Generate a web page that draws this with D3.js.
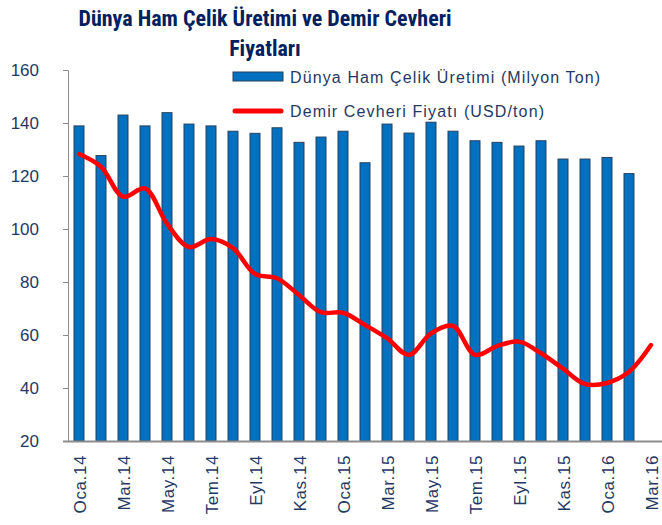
<!DOCTYPE html>
<html>
<head>
<meta charset="utf-8">
<script src="https://cdn.jsdelivr.net/npm/d3@7"></script>
<style>
  body { margin: 0; background: #fff; }
  text { font-family: "Liberation Sans", sans-serif; fill: #1F3864; }
  .title { font-family: "Liberation Sans Narrow", "Roboto Condensed", "Liberation Sans", sans-serif; }
</style>
</head>
<body>
<div id="chart"></div>
<script>
const months = ["Oca.14","Şub.14","Mar.14","Nis.14","May.14","Haz.14","Tem.14","Ağu.14","Eyl.14","Eki.14","Kas.14","Ara.14",
  "Oca.15","Şub.15","Mar.15","Nis.15","May.15","Haz.15","Tem.15","Ağu.15","Eyl.15","Eki.15","Kas.15","Ara.15",
  "Oca.16","Şub.16","Mar.16"];

// Dünya ham çelik üretimi (milyon ton)
const steel = [138.9, 127.7, 143, 138.9, 143.9, 139.6, 138.9, 136.9, 136.1, 138.2, 132.7, 134.7,
  136.9, 125, 139.6, 136.2, 140.3, 136.9, 133.3, 132.7, 131.3, 133.3, 126.4, 126.4, 127, 120.9];

// Demir cevheri fiyatı (USD/ton)
const ore = [128.3, 123.5, 112.2, 115.3, 102, 93.2, 96.2, 92.8, 83, 81.4, 75.1, 68.6,
  68.4, 63.8, 58.8, 52.5, 60.6, 63.4, 52.5, 55.8, 57.5, 53.1, 47.3, 41.5, 41.9, 46.1, 56.2];

const yTicks = [20, 40, 60, 80, 100, 120, 140, 160];

const width = 662, height = 525;
const margin = {top: 70, right: 0, bottom: 84, left: 68};

const svg = d3.select("#chart")
  .append("svg")
  .attr("width", width)
  .attr("height", height);

const x = d3.scaleBand()
  .domain(months)
  .range([margin.left, width - margin.right]);

const y = d3.scaleLinear()
  .domain([20, 160])
  .range([height - margin.bottom, margin.top]);

// title
const title = svg.append("text")
  .attr("class", "title")
  .attr("text-anchor", "middle")
  .style("font-size", "22px")
  .style("font-weight", "bold")
  .style("fill", "#002060");
title.append("tspan").attr("x", 265).attr("y", 26).text("Dünya Ham Çelik Üretimi ve Demir Cevheri");
title.append("tspan").attr("x", 265).attr("y", 56).text("Fiyatları");

// bars
const barW = 10;
svg.append("g")
  .selectAll("rect")
  .data(steel)
  .join("rect")
  .attr("x", (d, i) => x(months[i]) + x.bandwidth() / 2 - barW / 2)
  .attr("y", d => y(d))
  .attr("width", barW)
  .attr("height", d => y(20) - y(d))
  .attr("fill", "#0070C0")
  .attr("stroke", "#26425F")
  .attr("stroke-width", 1);

// y axis
const yAxis = svg.append("g")
  .attr("transform", `translate(${margin.left},0)`)
  .call(d3.axisLeft(y).tickValues(yTicks).tickSize(5).tickPadding(24));
yAxis.selectAll("path, line").attr("stroke", "#8c8c8c");
yAxis.selectAll("text").style("font-size", "17px").style("fill", "#1F3864")
  .style("font-family", "'Liberation Sans', sans-serif");

// x axis
const xAxis = svg.append("g")
  .attr("transform", `translate(0,${y(20)})`)
  .call(d3.axisBottom(x).tickValues(months.filter((m, i) => i % 2 === 0)).tickSize(0).tickPadding(0));
xAxis.select(".domain").attr("d", `M${margin.left - 5},0.5H${width}`).attr("stroke", "#8c8c8c").attr("stroke-width", 2);
xAxis.selectAll("text")
  .attr("transform", "rotate(-90)")
  .attr("text-anchor", "end")
  .attr("x", -14)
  .attr("y", 1)
  .attr("dy", "0.35em")
  .style("font-size", "17px")
  .style("letter-spacing", "0.6px")
  .style("fill", "#1F3864")
  .style("font-family", "'Liberation Sans', sans-serif");

// line
const line = d3.line()
  .x((d, i) => x(months[i]) + x.bandwidth() / 2)
  .y(d => y(d))
  .curve(d3.curveCatmullRom.alpha(0.5));

svg.append("path")
  .datum(ore)
  .attr("d", line)
  .attr("fill", "none")
  .attr("stroke", "#FF0000")
  .attr("stroke-width", 4.5)
  .attr("stroke-linecap", "round");

// legend
const lg = svg.append("g").attr("transform", "translate(233,0)");
lg.append("rect").attr("x", 0).attr("y", 72).attr("width", 50).attr("height", 9)
  .attr("fill", "#0070C0").attr("stroke", "#26425F");
lg.append("text").attr("x", 57).attr("y", 83).style("font-size", "16px")
  .attr("textLength", 310).attr("lengthAdjust", "spacing")
  .text("Dünya Ham Çelik Üretimi (Milyon Ton)");
lg.append("line").attr("x1", 2).attr("x2", 48).attr("y1", 111).attr("y2", 111)
  .attr("stroke", "#FF0000").attr("stroke-width", 5).attr("stroke-linecap", "round");
lg.append("text").attr("x", 57).attr("y", 117).style("font-size", "16px")
  .attr("textLength", 254).attr("lengthAdjust", "spacing")
  .text("Demir Cevheri Fiyatı (USD/ton)");
</script>
</body>
</html>
